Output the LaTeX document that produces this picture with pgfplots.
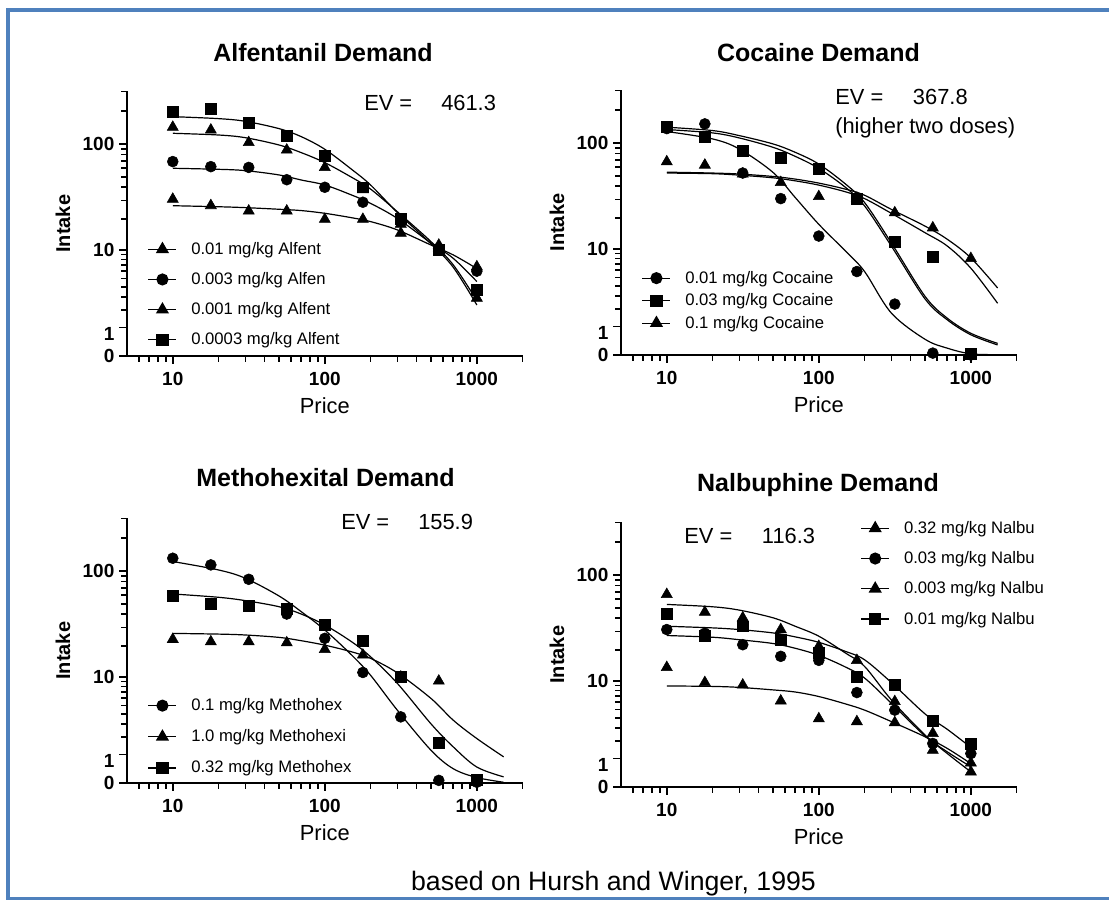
\documentclass[border=0pt]{standalone}
\usepackage{fontspec}
\setmainfont{Liberation Sans}
\usepackage{pgfplots}
\usepackage{pgfplotstable}
\pgfplotsset{compat=1.18}
\definecolor{frameblue}{HTML}{4F81BD}

\newcommand\tickfont{\fontsize{14.25pt}{16pt}\selectfont\bfseries}
\newcommand\legfont{\fontsize{12.5pt}{14pt}\selectfont}
\newcommand\labfont{\fontsize{16.4pt}{19pt}\selectfont}
\newcommand\titlefont{\fontsize{18.75pt}{22pt}\selectfont\bfseries}
% intake axis is log10((q+1.25)/1.25), so that an intake of 0 sits on the axis
\newcommand\tq[1]{ln(\thisrow{#1}+1.25)/ln(10)-0.09691}

% short intermediate ticks (2..9 within each decade) on both axes
\newcommand\shortticks{%
  \addplot[black, line width=1.2pt, unbounded coords=jump, forget plot] coordinates {
    (6,0) (6,-0.058) (6,nan) (7,0) (7,-0.058) (7,nan) (8,0) (8,-0.058) (8,nan) (9,0) (9,-0.058) (9,nan)
    (20,0) (20,-0.058) (20,nan) (30,0) (30,-0.058) (30,nan) (40,0) (40,-0.058) (40,nan)
    (50,0) (50,-0.058) (50,nan) (60,0) (60,-0.058) (60,nan) (70,0) (70,-0.058) (70,nan)
    (80,0) (80,-0.058) (80,nan) (90,0) (90,-0.058) (90,nan)
    (200,0) (200,-0.058) (200,nan) (300,0) (300,-0.058) (300,nan) (400,0) (400,-0.058) (400,nan)
    (500,0) (500,-0.058) (500,nan) (600,0) (600,-0.058) (600,nan) (700,0) (700,-0.058) (700,nan)
    (800,0) (800,-0.058) (800,nan) (900,0) (900,-0.058) (900,nan) (2000,0) (2000,-0.058)};
  \addplot[black, line width=1.2pt, unbounded coords=jump, forget plot] coordinates {
    (5,0.4150) (4.538,0.4150) (nan,0.4150) (5,0.5315) (4.538,0.5315) (nan,0.5315)
    (5,0.6232) (4.538,0.6232) (nan,0.6232) (5,0.6990) (4.538,0.6990) (nan,0.6990)
    (5,0.7634) (4.538,0.7634) (nan,0.7634) (5,0.8195) (4.538,0.8195) (nan,0.8195)
    (5,0.8692) (4.538,0.8692) (nan,0.8692) (5,0.9138) (4.538,0.9138) (nan,0.9138)
    (5,1.2304) (4.538,1.2304) (nan,1.2304) (5,1.3979) (4.538,1.3979) (nan,1.3979)
    (5,1.5185) (4.538,1.5185) (nan,1.5185) (5,1.6128) (4.538,1.6128) (nan,1.6128)
    (5,1.6902) (4.538,1.6902) (nan,1.6902) (5,1.7559) (4.538,1.7559) (nan,1.7559)
    (5,1.8129) (4.538,1.8129) (nan,1.8129) (5,1.8633) (4.538,1.8633) (nan,1.8633)
    (5,2.2068) (4.538,2.2068) (nan,2.2068) (5,2.3820) (4.538,2.3820)};
}

% ---------------- data: prices and intake -----------------
% Alfentanil: observed points
\pgfplotstableread{
x     a     b     c     d
10    31    69    142   196
17.8  27    62    134   210
31.6  24    61    103   156
56.2  24    47    88    119
100   20    40    61    78
178   20    29    38    40
316   14.7  19    18    20.4
562   11.2  10.4  10.5  10
1000  6.7   6.0   2.9   3.7
}\alfpts
% Alfentanil: fitted demand curves
\pgfplotstableread{
x     a     b     c     d
10    26.9  59.9  125   177
20    26.3  58.6  120.6 169.8
30    25.8  57    114   160.6
50    24.9  52    97.8  137.8
70    24.2  46.7  83.3  116.5
100   22.8  42    67.5  89.4
150   20.7  33.9  49.5  58.6
200   19.0  28.3  38.5  42
300   15.8  20.4  23.6  23.2
500   11.2  11.7  12.1  11.5
700   8.9   8.2   7.0   6.6
1000  6.4   4.6   2.7   2.35
}\alffit

% Cocaine
\pgfplotstableread{
x     a     b     c
10    135   139   67.4
17.8  149   114   62.8
31.6  53    85    52
56.2  30.7  73.9  43.4
100   13.45 58.5  32.1
178   5.8   30.7  31
316   2.34  11.7  22.6
562   0.05  8.3   16.2
1000  0     0.03  8.0
}\cocpts
\pgfplotstableread{
x     a     b1    b2    c1    c2
10    127   139   132.4 54    53
20    108.8 129.6 123.4 53    52.3
30    88    116.6 111   51.9  50.7
50    53.7  97.9  91.2  49.3  47.9
70    31.4  82.1  75.4  46.6  44.9
100   17.5  64.1  58.5  42.8  41
150   9.5   41.9  39    37.6  35.5
200   5.8   28.2  26.2  33    30.7
300   1.73  11.5  10.7  24.3  22.3
500   0.48  2.96  2.74  16.8  14.5
700   0.19  1.43  1.34  12.5  10.7
1000  0.03  0.71  0.65  8.1   6.3
1500  0.01  0.34  0.29  3.76  2.4
}\cocfit

% Methohexital
\pgfplotstableread{
x     a     b     c
10    130.5 23.3  59.4
17.8  113.5 22.1  50.5
31.6  83.9  22.1  47.7
56.2  40.2  21.6  44.8
100   23.8  18.7  31.8
178   11.1  16.5  22.6
316   3.67  10.0  10.0
562   0.07  9.1   1.64
1000  0.02  0.05  0.09
}\metpts
\pgfplotstableread{
x     a     b     c
10    121.8 26.5  61.6
20    102.1 26.1  57.4
30    85.8  25.6  53.5
50    59    24.3  47
70    42.3  22.6  40.2
100   28.5  20.5  31.8
150   16.5  17.7  22.1
200   10.4  15.3  15.85
300   4.4   11.0  8.6
500   1.21  5.95  3.0
700   0.43  3.34  1.39
1000  0.15  1.89  0.49
1500  0.02  0.9   0.17
}\metfit

% Nalbuphine
\pgfplotstableread{
x     a     b     c     d
10    13.65 31.4  66.4  44.4
17.8  9.65  29    45.6  27.6
31.6  9.1   22.6  40.4  33.7
56.2  6.2   17.5  31.4  25.2
100   3.9   16    21.8  19.1
178   3.6   7.6   16    11.1
316   3.5   4.9   6.1   9.1
562   1.43  1.83  2.55  3.7
1000  0.81  1.25  0.46  1.83
}\nalpts
\pgfplotstableread{
x     a     b     c     d
10    8.9   27.6  53.7  33.7
20    8.8   26.6  51.1  32.55
30    8.6   25.2  47.6  31.4
50    8.1   23.2  40.4  29.2
70    7.7   20.9  33.7  26.8
100   6.9   17.9  27.2  23.8
150   5.74  13.75 18.8  19.5
200   4.9   10.7  13.96 16.2
300   3.6   5.84  6.35  9.65
500   2.29  2.34  2.42  4.43
700   1.53  1.34  1.25  2.88
1000  0.78  0.65  0.46  1.59
}\nalfit

% settings shared by the four demand panels
\pgfplotsset{
  scale only axis, width=296.7pt, height=198.5pt,
  xmin=5, xmax=2000,
  ymin=0, ymax=2.3820,
  clip=false,
  axis x line*=bottom, axis y line*=left,
  axis line style={line width=1.8pt},
  tick align=outside,
  major tick length=6pt,
  tick style={black, line width=1.2pt},
  xtick={10,100,1000}, xticklabels={10,100,1000},
  ytick={0,0.2553,0.9542,1.9085},
  yticklabels={0,{\raisebox{-10pt}[0pt][0pt]{1}},10,100},
  ticklabel style={font=\tickfont},
  xticklabel style={yshift=-3pt},
  xlabel style={font=\labfont, at={(axis description cs:0.5,-0.187)}, anchor=center},
  ylabel style={font=\fontsize{15pt}{18pt}\selectfont\bfseries,
                at={(axis description cs:-0.162,0.5)}, anchor=center},
  legend cell align=left,
  legend style={draw=none, fill=none, font=\legfont, inner sep=0pt,
                column sep=8.7pt, row sep=8.1pt, anchor=north west},
  legend image code/.code={%
    \draw[mark repeat=2, mark phase=2, #1, sharp plot, black, line width=0.9pt]
      plot coordinates {(0pt,0pt) (10.5pt,0pt) (21pt,0pt)};},
  mtri/.style={only marks, mark=triangle*, mark size=4.8pt, mark options={solid, draw=black, fill=black}},
  mcir/.style={only marks, mark=*, mark size=4.1pt, mark options={solid, draw=black, fill=black}},
  msqr/.style={only marks, mark=square*, mark size=4.1pt, mark options={solid, draw=black, fill=black}},
  fitline/.style={black, line width=0.9pt, smooth, tension=0.55, no markers, forget plot},
}

\begin{document}
\begin{tikzpicture}[x=0.75pt, y=0.75pt]
\useasboundingbox (0,0) rectangle (1109,899);
\draw[frameblue, line width=3pt] (1112,889) -- (8.3,889) -- (8.3,0) -- (1112,0);

% ---------- Alfentanil ----------
\begin{semilogxaxis}[at={(95.25pt,407.25pt)}, anchor=south west,
  xlabel={Price}, ylabel={Intake},
  legend style={at={(axis description cs:0.052,0.441)}}]
  \addplot[mtri] table[x=x, y expr=\tq{a}] {\alfpts};
  \addlegendentry{0.01 mg/kg Alfent}
  \addplot[mcir] table[x=x, y expr=\tq{b}] {\alfpts};
  \addlegendentry{0.003 mg/kg Alfen}
  \addplot[mtri] table[x=x, y expr=\tq{c}] {\alfpts};
  \addlegendentry{0.001 mg/kg Alfent}
  \addplot[msqr] table[x=x, y expr=\tq{d}] {\alfpts};
  \addlegendentry{0.0003 mg/kg Alfent}
  \addplot[fitline] table[x=x, y expr=\tq{a}] {\alffit};
  \addplot[fitline] table[x=x, y expr=\tq{b}] {\alffit};
  \addplot[fitline] table[x=x, y expr=\tq{c}] {\alffit};
  \addplot[fitline] table[x=x, y expr=\tq{d}] {\alffit};
  \shortticks
\end{semilogxaxis}

% ---------- Cocaine ----------
\begin{semilogxaxis}[at={(465.75pt,408pt)}, anchor=south west,
  xlabel={Price}, ylabel={Intake},
  legend style={at={(axis description cs:0.052,0.328)}, row sep=2.3pt}]
  \addplot[mcir] table[x=x, y expr=\tq{a}] {\cocpts};
  \addlegendentry{0.01 mg/kg Cocaine}
  \addplot[msqr] table[x=x, y expr=\tq{b}] {\cocpts};
  \addlegendentry{0.03 mg/kg Cocaine}
  \addplot[mtri] table[x=x, y expr=\tq{c}] {\cocpts};
  \addlegendentry{0.1 mg/kg Cocaine}
  \addplot[fitline] table[x=x, y expr=\tq{a}] {\cocfit};
  \addplot[fitline] table[x=x, y expr=\tq{b1}] {\cocfit};
  \addplot[fitline] table[x=x, y expr=\tq{b2}] {\cocfit};
  \addplot[fitline] table[x=x, y expr=\tq{c1}] {\cocfit};
  \addplot[fitline] table[x=x, y expr=\tq{c2}] {\cocfit};
  \shortticks
\end{semilogxaxis}

% ---------- Methohexital ----------
\begin{semilogxaxis}[at={(95.25pt,87pt)}, anchor=south west,
  xlabel={Price}, ylabel={Intake},
  legend style={at={(axis description cs:0.052,0.330)}, row sep=8.8pt}]
  \addplot[mcir] table[x=x, y expr=\tq{a}] {\metpts};
  \addlegendentry{0.1 mg/kg Methohex}
  \addplot[mtri] table[x=x, y expr=\tq{b}] {\metpts};
  \addlegendentry{1.0 mg/kg Methohexi}
  \addplot[msqr] table[x=x, y expr=\tq{c}] {\metpts};
  \addlegendentry{0.32 mg/kg Methohex}
  \addplot[fitline] table[x=x, y expr=\tq{a}] {\metfit};
  \addplot[fitline] table[x=x, y expr=\tq{b}] {\metfit};
  \addplot[fitline] table[x=x, y expr=\tq{c}] {\metfit};
  \shortticks
\end{semilogxaxis}

% ---------- Nalbuphine ----------
\begin{semilogxaxis}[at={(465.75pt,84pt)}, anchor=south west,
  xlabel={Price}, ylabel={Intake},
  legend style={at={(axis description cs:0.605,1.015)}}]
  \addplot[mtri] table[x=x, y expr=\tq{a}] {\nalpts};
  \addlegendentry{0.32 mg/kg Nalbu}
  \addplot[mcir] table[x=x, y expr=\tq{b}] {\nalpts};
  \addlegendentry{0.03 mg/kg Nalbu}
  \addplot[mtri] table[x=x, y expr=\tq{c}] {\nalpts};
  \addlegendentry{0.003 mg/kg Nalbu}
  \addplot[msqr] table[x=x, y expr=\tq{d}] {\nalpts};
  \addlegendentry{0.01 mg/kg Nalbu}
  \addplot[fitline] table[x=x, y expr=\tq{a}] {\nalfit};
  \addplot[fitline] table[x=x, y expr=\tq{b}] {\nalfit};
  \addplot[fitline] table[x=x, y expr=\tq{c}] {\nalfit};
  \addplot[fitline] table[x=x, y expr=\tq{d}] {\nalfit};
  \shortticks
\end{semilogxaxis}

% ---------- titles ----------
\node[font=\titlefont, anchor=base] at (323,837) {Alfentanil Demand};
\node[font=\titlefont, anchor=base] at (818.5,837) {Cocaine Demand};
\node[font=\titlefont, anchor=base] at (325.5,412) {Methohexital Demand};
\node[font=\titlefont, anchor=base] at (818,407) {Nalbuphine Demand};

% ---------- elasticity values ----------
\begin{scope}[every node/.style={font=\labfont, anchor=base west, inner sep=0pt}]
\node at (364,788.3) {EV =};   \node at (441,788.3) {461.3};
\node at (835,794) {EV =};     \node at (912.7,794) {367.8};
\node at (835,765.7) {(higher two doses)};
\node at (341,369) {EV =};     \node at (418,369) {155.9};
\node at (684,355) {EV =};     \node at (761.7,355) {116.3};
\end{scope}

\node[font=\fontsize{20pt}{24pt}\selectfont, anchor=base] at (613.5,9) {based on Hursh and Winger, 1995};
\end{tikzpicture}
\end{document}
